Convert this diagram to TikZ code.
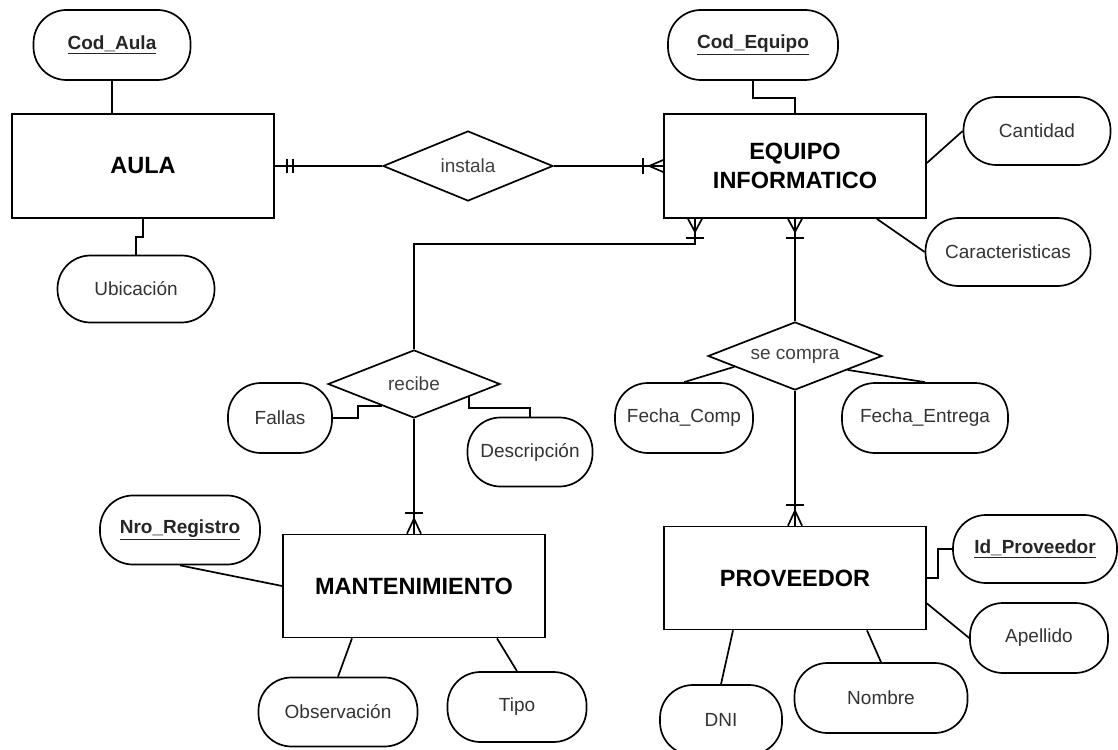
\documentclass[tikz,border=0pt]{standalone}
\usepackage{fontspec}
\setmainfont{Liberation Sans}
\usetikzlibrary{shapes.geometric,calc}

\begin{document}
\begin{tikzpicture}[x=1pt,y=-1pt,line width=1.7pt,
  ent/.style={draw, rectangle, minimum width=262pt, minimum height=104pt, inner sep=0pt,
    font=\fontsize{23.5}{29}\selectfont\bfseries, align=center},
  attr/.style={draw, rectangle, rounded corners=33pt, inner sep=0pt,
    font=\fontsize{19}{22}\selectfont, text=black!80},
  keyattr/.style={attr, font=\fontsize{19}{22}\selectfont\bfseries, text=black!85},
  rel/.style={draw, diamond, shape aspect=2.5, inner sep=0pt,
    font=\fontsize{19}{22}\selectfont, text=black!75},
  tick/.style={line width=1.7pt}
]
\useasboundingbox (0,0) rectangle (1118,749);

% entities
\node[ent] (aula)   at (143,166) {AULA};
\node[ent] (equipo) at (795,166) {EQUIPO\\INFORMATICO};
\node[ent, minimum height=103pt] (mant) at (414,586) {MANTENIMIENTO};
\node[ent, minimum height=103pt] (prov) at (795,578) {PROVEEDOR};

% relationships
\node[rel, minimum width=170pt, minimum height=70pt] (instala)  at (468,166) {instala};
\node[rel, minimum width=172pt, minimum height=68pt] (recibe)   at (414,384) {recibe};
\node[rel, minimum width=174pt, minimum height=68pt] (secompra) at (795,356) {se compra};

% attributes
\node[keyattr, minimum width=157pt, minimum height=70pt] (codaula) at (112,45) {\underline{Cod\_Aula}};
\node[attr, minimum width=157pt, minimum height=67pt] (ubic) at (136,289) {Ubicación};
\node[keyattr, minimum width=170pt, minimum height=70pt] (codeq) at (753,45) {\underline{Cod\_Equipo}};
\node[attr, minimum width=147pt, minimum height=68pt] (cantidad) at (1037,131) {Cantidad};
\node[attr, minimum width=165pt, minimum height=68pt] (caract) at (1008,252) {Caracteristicas};
\node[attr, minimum width=104pt, minimum height=70pt] (fallas) at (280,418) {Fallas};
\node[attr, minimum width=125pt, minimum height=69pt] (descr) at (530,452) {Descripción};
\node[keyattr, minimum width=160pt, minimum height=69pt] (nroreg) at (180,530) {\underline{Nro\_Registro}};
\node[attr, minimum width=159pt, minimum height=69pt] (obs) at (338,712) {Observación};
\node[attr, minimum width=139pt, minimum height=70pt] (tipo) at (517,707) {Tipo};
\node[attr, minimum width=138pt, minimum height=70pt] (fcomp) at (684,418) {Fecha\_Comp};
\node[attr, minimum width=166pt, minimum height=70pt] (fentr) at (925,418) {Fecha\_Entrega};
\node[keyattr, minimum width=164pt, minimum height=68pt] (idprov) at (1035,549) {\underline{Id\_Proveedor}};
\node[attr, minimum width=138pt, minimum height=70pt] (apellido) at (1039,638) {Apellido};
\node[attr, minimum width=173pt, minimum height=70pt] (nombre) at (881,698) {Nombre};
\node[attr, minimum width=122pt, minimum height=70pt] (dni) at (721,720) {DNI};

% attribute links
\draw (codaula.south) -- (codaula.south |- aula.north);
\draw (aula.south) -- ++(0,18) -| (ubic.north);
\draw (codeq.south) -- ++(0,17) -| (equipo.north);
\draw ([yshift=3pt]equipo.east) -- (cantidad.west);
\draw ([xshift=-50pt]equipo.south east) -- (caract.west);
\coordinate (rfl) at ($(recibe.west)!0.63!(recibe.south)$);
\draw (fallas.east) -- ++(25,0) |- (rfl);
\coordinate (rde) at ($(recibe.south)!0.63!(recibe.east)$);
\draw (rde) -- ++(0,11) -| (descr.north);
\draw (nroreg.south) -- (mant.west);
\draw ([xshift=-62pt]mant.south) -- (obs.north);
\draw ([xshift=83pt]mant.south) -- (tipo.north);
\coordinate (sfc) at ($(secompra.west)!0.31!(secompra.south)$);
\draw (sfc) -- (fcomp.north);
\coordinate (sfe) at ($(secompra.south)!0.6!(secompra.east)$);
\draw (sfe) -- (fentr.north);
\draw (prov.east) -- ++(11,0) |- (idprov.west);
\draw ([yshift=27pt]prov.south east) -- (apellido.west);
\draw ([xshift=72pt]prov.south) -- (nombre.north);
\draw ([xshift=-62pt]prov.south) -- (dni.north);

% relationship links with cardinality marks
\draw (aula.east) -- (instala.west);
\draw[tick] ($(aula.east)+(12,-7)$) -- ($(aula.east)+(12,7)$);
\draw[tick] ($(aula.east)+(18,-7)$) -- ($(aula.east)+(18,7)$);

\draw (instala.east) -- (equipo.west);
\draw[tick] ($(equipo.west)+(-20,-8)$) -- ($(equipo.west)+(-20,8)$);
\draw[tick] ($(equipo.west)+(-14,0)$) -- ($(equipo.west)+(0,-6)$)
            ($(equipo.west)+(-14,0)$) -- ($(equipo.west)+(0,6)$);

\coordinate (eqr) at ([xshift=-100pt]equipo.south);
\draw (eqr) -- ++(0,25) -| (recibe.north);
\draw[tick] ($(eqr)+(-9,19)$) -- ($(eqr)+(9,19)$);
\draw[tick] ($(eqr)+(0,13)$) -- ($(eqr)+(-7,0)$)
            ($(eqr)+(0,13)$) -- ($(eqr)+(7,0)$);

\draw (equipo.south) -- (secompra.north);
\draw[tick] ($(equipo.south)+(-9,19)$) -- ($(equipo.south)+(9,19)$);
\draw[tick] ($(equipo.south)+(0,13)$) -- ($(equipo.south)+(-7,0)$)
            ($(equipo.south)+(0,13)$) -- ($(equipo.south)+(7,0)$);

\draw (recibe.south) -- (mant.north);
\draw[tick] ($(mant.north)+(-9,-21)$) -- ($(mant.north)+(9,-21)$);
\draw[tick] ($(mant.north)+(0,-15)$) -- ($(mant.north)+(-7,0)$)
            ($(mant.north)+(0,-15)$) -- ($(mant.north)+(7,0)$);

\draw (secompra.south) -- (prov.north);
\draw[tick] ($(prov.north)+(-9,-21)$) -- ($(prov.north)+(9,-21)$);
\draw[tick] ($(prov.north)+(0,-15)$) -- ($(prov.north)+(-7,0)$)
            ($(prov.north)+(0,-15)$) -- ($(prov.north)+(7,0)$);
\end{tikzpicture}
\end{document}
